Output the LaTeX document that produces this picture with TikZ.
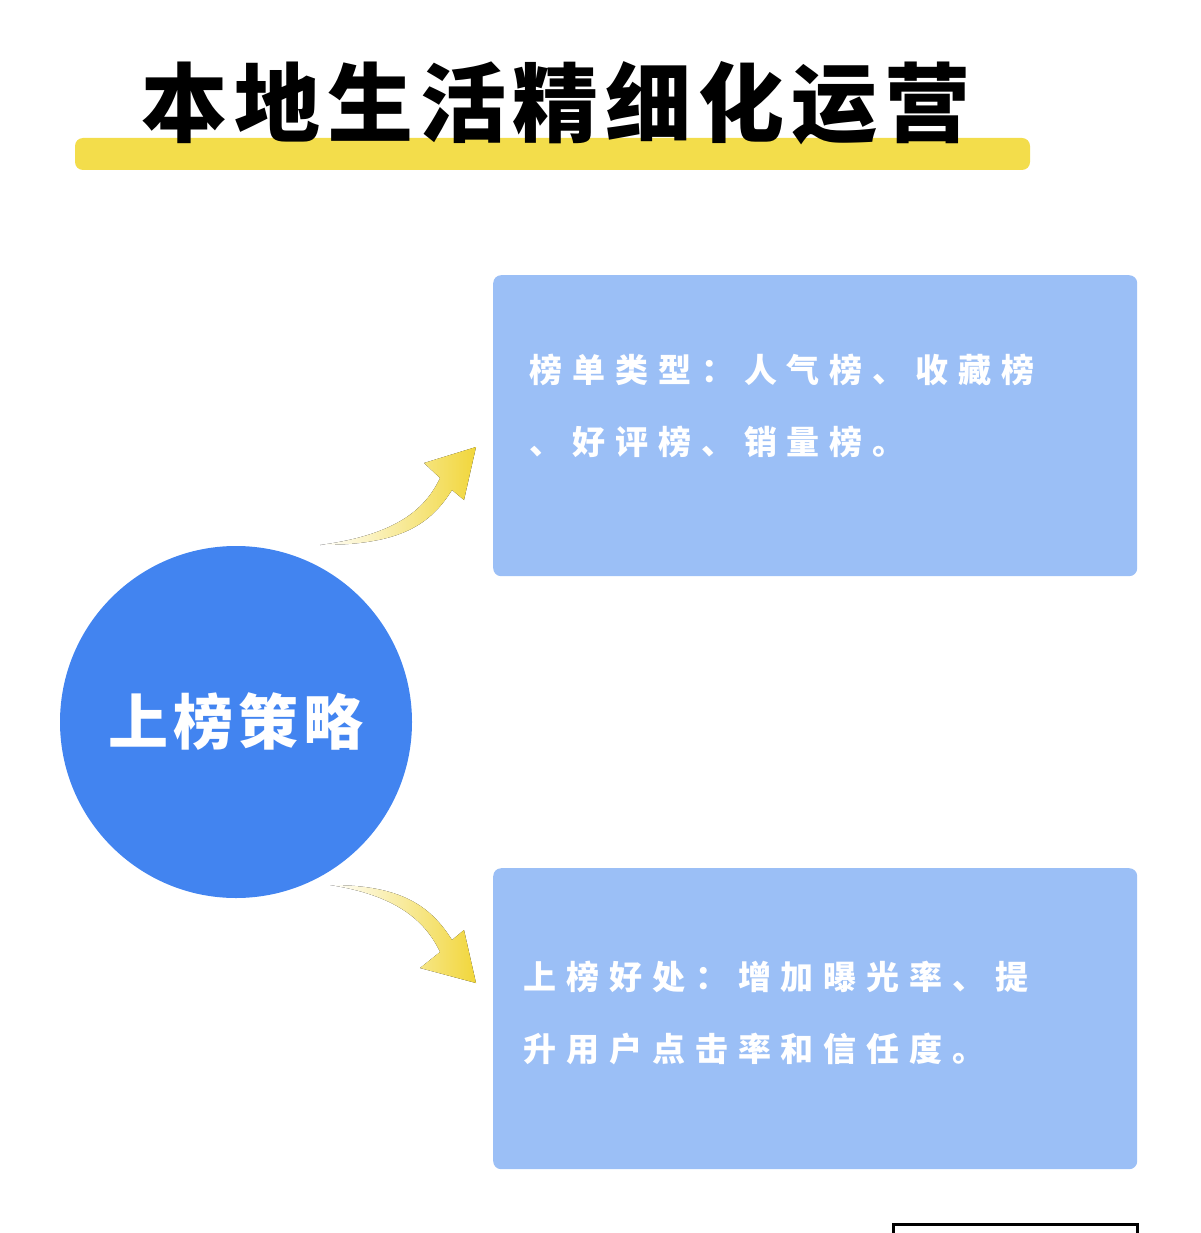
\documentclass[tikz,border=0pt]{standalone}
\usepackage{fontspec}
\usetikzlibrary{positioning}
\newfontfamily\cjk{Noto Sans CJK SC}[LetterSpace=8]
\newfontfamily\cjkwide{Noto Sans CJK SC}[LetterSpace=30]
\definecolor{titlebar}{HTML}{F3DD4B}
\definecolor{hubblue}{HTML}{4284F0}
\definecolor{cardblue}{HTML}{9BBFF6}
\definecolor{arrowyellow}{HTML}{F1D63A}
\begin{document}
\begin{tikzpicture}[x=1pt,y=-1pt,
      card style/.style={rectangle,fill=cardblue,rounded corners=8pt,anchor=north west,
        minimum width=644pt,minimum height=301pt},
      card text/.style={text=white,align=left,anchor=west,
        font=\cjkwide\bfseries\fontsize{33}{72}\selectfont},
      arrow style/.style={left color=white,right color=arrowyellow,draw=none}
      ]
      \useasboundingbox (0,0) rectangle (1200,1233);

      % title
      \fill[titlebar,rounded corners=8pt] (75,138) rectangle (1030,170);
      \node[font=\cjk\bfseries\fontsize{86}{90}\selectfont] (title) at (556,103) {本地生活精细化运营};

      % hub
      \node[circle,fill=hubblue,minimum size=352pt,inner sep=0pt] (hub) at (236,722) {};
      \node[text=white,font=\cjk\bfseries\fontsize{60}{64}\selectfont] (hubtext) at (hub) {上榜策略};

      % cards
      \node[card style] (types) at (493,275) {};
      \node[card text] (typestext) at (526,406) {榜单类型：人气榜、收藏榜\\、好评榜、销量榜。};
      \node[card style] (gains) at (493,868) {};
      \node[card text] (gainstext) at (520,1013) {上榜好处：增加曝光率、提\\升用户点击率和信任度。};

      % arrows
      \fill[arrow style] (320,545) .. controls (395,535) and (425,510) .. (440,478)
        -- (424,463) -- (476,447) -- (464,500) -- (452,490)
        .. controls (430,525) and (400,545) .. cycle;
      \fill[arrow style] (330,885) .. controls (395,895) and (425,920) .. (440,952)
        -- (420,968) -- (476,983) -- (464,930) -- (452,940)
        .. controls (430,905) and (400,885) .. cycle;

      % next panel edge
      \draw[line width=3pt] (893,1233) -- (893,1224) -- (1137,1224) -- (1137,1233);
    \end{tikzpicture}
\end{document}
